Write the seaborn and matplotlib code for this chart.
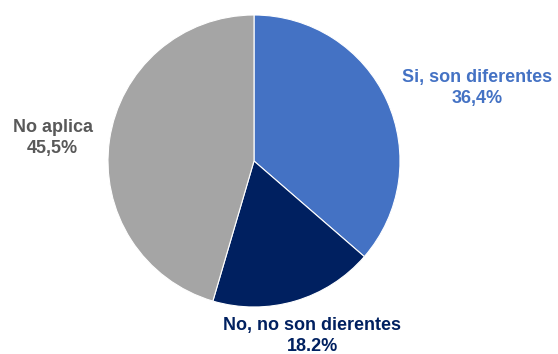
import matplotlib
matplotlib.use("Agg")
import matplotlib.pyplot as plt
import seaborn as sns

categories = ["Si, son diferentes", "No, no son dierentes", "No aplica"]
values = [36.4, 18.2, 45.5]
value_labels = ["36,4%", "18.2%", "45,5%"]
colors = ["#4472C4", "#002060", "#A5A5A5"]
label_colors = ["#4472C4", "#002060", "#595959"]

sns.set_theme(style="white")
plt.rcParams['font.family'] = ['Liberation Sans', 'DejaVu Sans']

W, H = 558, 354
fig = plt.figure(figsize=(W / 100, H / 100), dpi=100)
cx, cy, r = 254, 161, 146
ax = fig.add_axes([(cx - r) / W, (H - cy - r) / H, 2 * r / W, 2 * r / H])
ax.pie(values, colors=colors, startangle=90, counterclock=False,
       radius=1, wedgeprops=dict(edgecolor="white", linewidth=0.8))
ax.set_xlim(-1, 1)
ax.set_ylim(-1, 1)
ax.set_axis_off()

positions = [(1.53, 0.50), (0.40, -1.20), (-1.38, 0.158)]
for cat, vl, col, (x, y) in zip(categories, value_labels, label_colors, positions):
    ax.text(x, y, f"{cat}\n{vl}", ha="center", va="center", color=col,
            fontsize=13, fontweight="bold", linespacing=1.3, clip_on=False)

fig.savefig("out.png", dpi=100)
